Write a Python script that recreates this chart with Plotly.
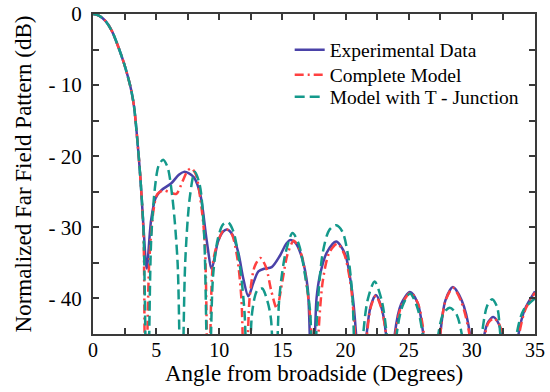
import plotly.graph_objects as go

# Experimental data
exp_angle = [0, 0.5, 1.0, 1.5, 2.0, 2.5, 3.0, 3.25, 3.5, 3.75, 4.0,
             4.25, 4.6, 4.95, 5.4, 6.2, 6.8, 7.2, 7.6, 8.0, 8.5,
             9.0, 9.4, 9.9, 10.3, 10.6, 11.0, 11.5, 11.9, 12.3, 12.7,
             13.1, 13.6, 14.15, 14.8, 15.3, 15.6, 16.0, 16.5, 17.0, 17.35,
             17.7, 18.0, 18.5, 19.25, 19.95, 20.5, 20.85, 21.25, 21.67, 22.0, 22.4,
             22.8, 23.2, 23.55, 23.9, 24.4, 25.1, 25.7, 26.15, 26.8, 27.5,
             27.9, 28.5, 29.2, 29.85, 30.4, 31.0, 31.3, 31.7, 32.05, 32.36,
             33.0, 33.7, 34.2, 35.0]
exp_db = [0, -0.25, -1.0, -2.4, -4.6, -7.2, -10.5, -13.0, -17.5, -23.0, -30.0,
          -35.8, -29.0, -25.9, -24.8, -23.8, -22.6, -22.2, -22.4, -23.0, -25.4,
          -31.8, -35.8, -32.0, -30.6, -30.3, -30.9, -33.5, -37.2, -39.7, -37.8,
          -36.2, -35.8, -35.6, -34.0, -32.3, -31.8, -32.1, -34.0, -38.5, -58,
          -40.0, -36.5, -33.6, -32.0, -33.7, -38.8, -45.5, -60, -45, -41.0, -39.5,
          -41.0, -45, -60, -45, -40.8, -39.1, -40.6, -45, -60, -45,
          -40.3, -38.4, -40.3, -45, -60, -45, -43.3, -42.6, -43.3, -45,
          -60, -45, -41.5, -39.0]

# Complete model
cm_angle = [0, 0.5, 1.0, 1.5, 2.0, 2.5, 3.0, 3.25, 3.5, 3.75, 4.0,
            4.15, 4.45, 4.8, 5.1, 5.6, 6.1, 6.6, 7.1, 7.5, 7.8,
            8.15, 8.5, 8.85, 9.15, 9.5, 9.9, 10.3, 10.6, 11.0, 11.4,
            11.75, 12.05, 12.4, 12.8, 13.25, 13.7, 14.1, 14.55, 15.0, 15.4,
            15.9, 16.5, 16.95, 17.3, 17.5, 17.85, 18.2, 18.7, 19.35, 19.9,
            20.4, 20.75, 21.2, 21.7, 22.0, 22.4, 22.8, 23.2, 23.55, 23.95,
            24.45, 25.15, 25.75, 26.2, 26.85, 27.5, 27.9, 28.5, 29.15, 29.8,
            30.4, 31.05, 31.35, 31.75, 32.1, 32.4, 33.0, 33.75, 34.25, 35.0]
cm_db = [0, -0.25, -1.0, -2.4, -4.6, -7.2, -10.5, -13.0, -17.5, -23.0, -31.0,
         -60, -35, -27.5, -25.3, -24.8, -25.1, -25.3, -23.5, -22.0, -21.7,
         -22.6, -26.0, -32.0, -60, -35, -32, -30.5, -30.3, -31.0, -34.0,
         -40, -60, -40, -35.5, -34.3, -35.6, -38.8, -41.4, -37.5, -33.8,
         -31.9, -33.8, -38.5, -45, -60, -45, -37.5, -33.6, -32.3, -33.8,
         -38, -45, -60, -45, -41.2, -39.6, -41.2, -45, -60, -45,
         -40.9, -39.2, -40.8, -45, -60, -45, -40.4, -38.5, -40.4, -45,
         -60, -45, -43.3, -42.8, -43.4, -45, -60, -45, -41.5, -39.2]

# Model with T-junction
tj_angle = [0, 0.5, 1.0, 1.5, 2.0, 2.5, 3.0, 3.25, 3.5, 3.75, 4.0,
            4.3, 4.6, 4.9, 5.2, 5.55, 5.9, 6.3, 6.7, 7.0, 7.3,
            7.65, 8.05, 8.45, 8.8, 9.15, 9.5, 9.9, 10.3, 10.7, 11.1,
            11.6, 12.0, 12.3, 12.6, 13.0, 13.4, 13.8, 14.1, 14.4, 14.75,
            15.25, 15.8, 16.3, 16.8, 17.2, 17.45, 17.75, 18.2, 18.7, 19.25,
            19.75, 20.2, 20.55, 20.9, 21.4, 21.75, 22.3, 22.85, 23.25, 23.6,
            24.05, 24.5, 25.1, 25.65, 26.1, 26.7, 27.35, 27.75, 28.25, 28.75,
            29.2, 30.0, 30.8, 31.2, 31.6, 32.0, 32.25, 32.9, 33.55, 34.1,
            35.0]
tj_db = [0, -0.25, -1.0, -2.4, -4.6, -7.2, -10.5, -13.0, -17.5, -23.0, -30.5,
         -60, -32, -24.5, -21.3, -20.5, -21.5, -26, -35, -60, -35,
         -26, -22.2, -24, -31, -60, -37, -31.5, -29.6, -29.3, -30.5,
         -35, -42, -60, -42, -38.9, -38.6, -40.3, -43, -60, -40,
         -33.6, -30.8, -32.4, -36.8, -42, -60, -42, -33.5, -30.4, -29.7,
         -30.6, -34, -40, -60, -45, -40.2, -37.6, -40.2, -45, -60,
         -45, -41.1, -39.3, -41.1, -45, -60, -45, -42.1, -41.3, -42.1,
         -45, -60, -45, -41.1, -40.1, -41.2, -45, -60, -45, -41.6,
         -40.0]

x_tickvals = [0, 2.5, 5, 7.5, 10, 12.5, 15, 17.5, 20, 22.5, 25, 27.5, 30, 32.5, 35]
x_ticktext = ["0", "", "5", "", "10", "", "15", "", "20", "", "25", "", "30", "", "35"]
y_tickvals = [0, -5, -10, -15, -20, -25, -30, -35, -40, -45]
y_ticktext = ["0", "", "- 10", "", "- 20", "", "- 30", "", "- 40", ""]

FONT = "Liberation Serif"

fig = go.Figure()
fig.add_trace(go.Scatter(x=exp_angle, y=exp_db, mode="lines", name="Experimental Data",
                         legend="legend",
                         line=dict(color="#4a42a8", width=2.5, shape="spline", smoothing=0.8)))
fig.add_trace(go.Scatter(x=cm_angle, y=cm_db, mode="lines", name="Complete Model",
                         legend="legend2",
                         line=dict(color="#ff4040", width=2.5, dash="9px,4px,2px,4px",
                                   shape="spline", smoothing=0.8)))
fig.add_trace(go.Scatter(x=tj_angle, y=tj_db, mode="lines", name="Model with T - Junction",
                         legend="legend3",
                         line=dict(color="#14998b", width=2.5, dash="10px,5px",
                                   shape="spline", smoothing=0.8)))

axis_common = dict(showline=True, linecolor="#3a3a3a", linewidth=2, mirror="ticks",
                   ticks="inside", ticklen=6, tickwidth=1.5, tickcolor="#3a3a3a",
                   showgrid=False, zeroline=False, automargin=False,
                   ticklabeloverflow="allow")

W, H = 550, 392
ML, MT, MR, MB = 93, 14, 15, 58
plot_h = H - MT - MB


def leg(row_center_px):
    # row_center_px: vertical centre of the legend row in figure pixels
    return dict(x=0.445, y=(H - MB - row_center_px) / plot_h, xanchor="left", yanchor="middle",
                bgcolor="rgba(0,0,0,0)", borderwidth=0,
                font=dict(family=FONT, size=19.5, color="black"))


fig.update_layout(
    width=W, height=H,
    margin=dict(l=ML, r=MR, t=MT, b=MB, autoexpand=False),
    paper_bgcolor="white", plot_bgcolor="white",
    font=dict(family=FONT, color="black"),
    showlegend=True,
    legend=leg(50),
    legend2=leg(75),
    legend3=leg(97),
    xaxis=dict(range=[0, 35], tickvals=x_tickvals, ticktext=x_ticktext,
               ticklabelstandoff=-3,
               tickfont=dict(family=FONT, size=20, color="black"),
               title=dict(text="Angle from broadside (Degrees)",
                          font=dict(family=FONT, size=23, color="black"), standoff=5),
               **axis_common),
    yaxis=dict(range=[-45, 0], tickvals=y_tickvals, ticktext=y_ticktext,
               ticklabelstandoff=5,
               tickfont=dict(family=FONT, size=21, color="black"),
               title=dict(text="Normalized Far Field Pattern (dB)",
                          font=dict(family=FONT, size=23, color="black"), standoff=10),
               **axis_common),
)

fig.write_html("out.html",
               config={"displayModeBar": False},
               post_script="document.body.style.margin='0';document.body.style.overflow='hidden';")
